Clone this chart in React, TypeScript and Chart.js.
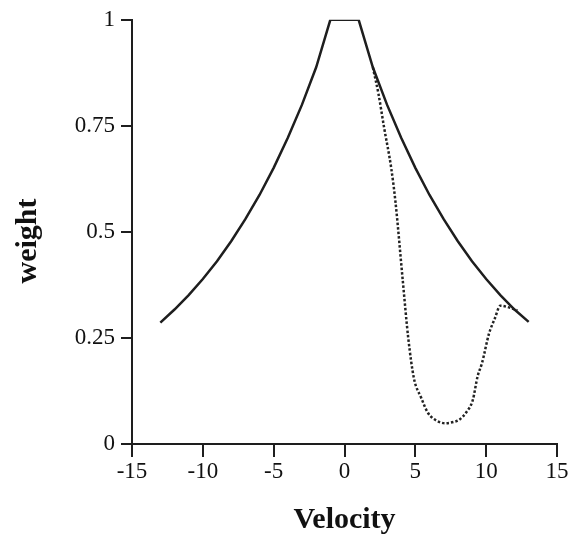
import React, { useEffect, useRef } from "react";
import { Chart, registerables } from "chart.js";

Chart.register(...registerables);

// Solid curve
const solidVelocity = [-13, -12, -11, -10, -9, -8, -7, -6, -5, -4, -3, -2, -1, 0, 1, 2, 3, 4, 5, 6, 7, 8, 9, 10, 11, 12, 13];
const solidWeight = [0.286, 0.317, 0.351, 0.389, 0.431, 0.478, 0.53, 0.587, 0.651, 0.722, 0.8, 0.888, 1, 1, 1, 0.888, 0.8, 0.722, 0.651, 0.587, 0.53, 0.478, 0.431, 0.389, 0.351, 0.317, 0.288];

// Dotted curve
const dottedVelocity = [2.0, 2.4, 2.8, 3.3, 3.6, 4.1, 4.5, 4.9, 5.4, 5.9, 6.5, 7.1, 7.7, 8.1, 8.6, 9.05, 9.4, 9.7, 10.2, 10.6, 11.0, 11.6, 12.2];
const dottedWeight = [0.888, 0.825, 0.745, 0.65, 0.57, 0.39, 0.25, 0.155, 0.11, 0.073, 0.055, 0.049, 0.052, 0.057, 0.075, 0.103, 0.16, 0.19, 0.26, 0.295, 0.326, 0.322, 0.315];

const xTicks = [-15, -10, -5, 0, 5, 10, 15];
const yTicks = [0, 0.25, 0.5, 0.75, 1];
const yTickLabels = ["0", "0.25", "0.5", "0.75", "1"];

const xTitle = "Velocity";
const yTitle = "weight";

const FONT = "'Liberation Serif', 'Times New Roman', serif";

const yTitlePlugin = {
  id: "yTitlePlugin",
  afterDraw(chart: any) {
    const ctx = chart.ctx;
    ctx.save();
    ctx.translate(28, 241);
    ctx.rotate(-Math.PI / 2);
    ctx.font = `bold 30px ${FONT}`;
    ctx.fillStyle = "#111";
    ctx.textAlign = "center";
    ctx.textBaseline = "middle";
    ctx.fillText(yTitle, 0, 0);
    ctx.restore();
  },
};

export default function App() {
  const ref = useRef<HTMLCanvasElement | null>(null);

  useEffect(() => {
    if (!ref.current) return;
    const chart = new Chart(ref.current, {
      type: "line",
      data: {
        datasets: [
          {
            data: solidVelocity.map((x, i) => ({ x, y: solidWeight[i] })),
            borderColor: "#1e1e1e",
            borderWidth: 2.5,
            pointRadius: 0,
            tension: 0,
          },
          {
            data: dottedVelocity.map((x, i) => ({ x, y: dottedWeight[i] })),
            borderColor: "#222",
            borderWidth: 2.5,
            borderDash: [2.5, 2],
            pointRadius: 0,
            cubicInterpolationMode: "monotone",
          },
        ],
      },
      options: {
        animation: false,
        responsive: false,
        devicePixelRatio: 1,
        layout: { padding: { top: 18, right: 14, left: 0, bottom: 0 } },
        plugins: { legend: { display: false }, tooltip: { enabled: false } },
        scales: {
          x: {
            type: "linear",
            min: -15,
            max: 15,
            afterBuildTicks: (s: any) => {
              s.ticks = xTicks.map((v) => ({ value: v }));
            },
            afterFit: (s: any) => {
              s.height = 94;
            },
            ticks: {
              color: "#111",
              font: { family: FONT, size: 23 },
              padding: 1,
              maxRotation: 0,
              autoSkip: false,
              callback: (v: any) => String(v),
            },
            grid: {
              drawOnChartArea: false,
              drawTicks: true,
              tickLength: 13,
              color: "#1e1e1e",
              lineWidth: 2,
            },
            border: { display: true, color: "#1e1e1e", width: 2 },
            title: {
              display: true,
              text: xTitle,
              color: "#111",
              font: { family: FONT, size: 30, weight: "bold" },
              padding: { top: 0, bottom: 0 },
            },
          },
          y: {
            type: "linear",
            min: 0,
            max: 1,
            afterBuildTicks: (s: any) => {
              s.ticks = yTicks.map((v) => ({ value: v }));
            },
            afterFit: (s: any) => {
              s.width = 132;
            },
            ticks: {
              color: "#111",
              font: { family: FONT, size: 23 },
              padding: 6,
              autoSkip: false,
              callback: (v: any) => {
                const i = yTicks.indexOf(Number(v));
                return i >= 0 ? yTickLabels[i] : "";
              },
            },
            grid: {
              drawOnChartArea: false,
              drawTicks: true,
              tickLength: 11,
              color: "#1e1e1e",
              lineWidth: 2,
            },
            border: { display: true, color: "#1e1e1e", width: 2 },
            title: { display: false },
          },
        },
      },
      plugins: [yTitlePlugin],
    });
    return () => chart.destroy();
  }, []);

  return (
    <div style={{ position: "fixed", left: 0, top: 0, width: 571, height: 538, background: "#fff" }}>
      <canvas ref={ref} width={571} height={538} style={{ width: 571, height: 538, display: "block" }} />
    </div>
  );
}
